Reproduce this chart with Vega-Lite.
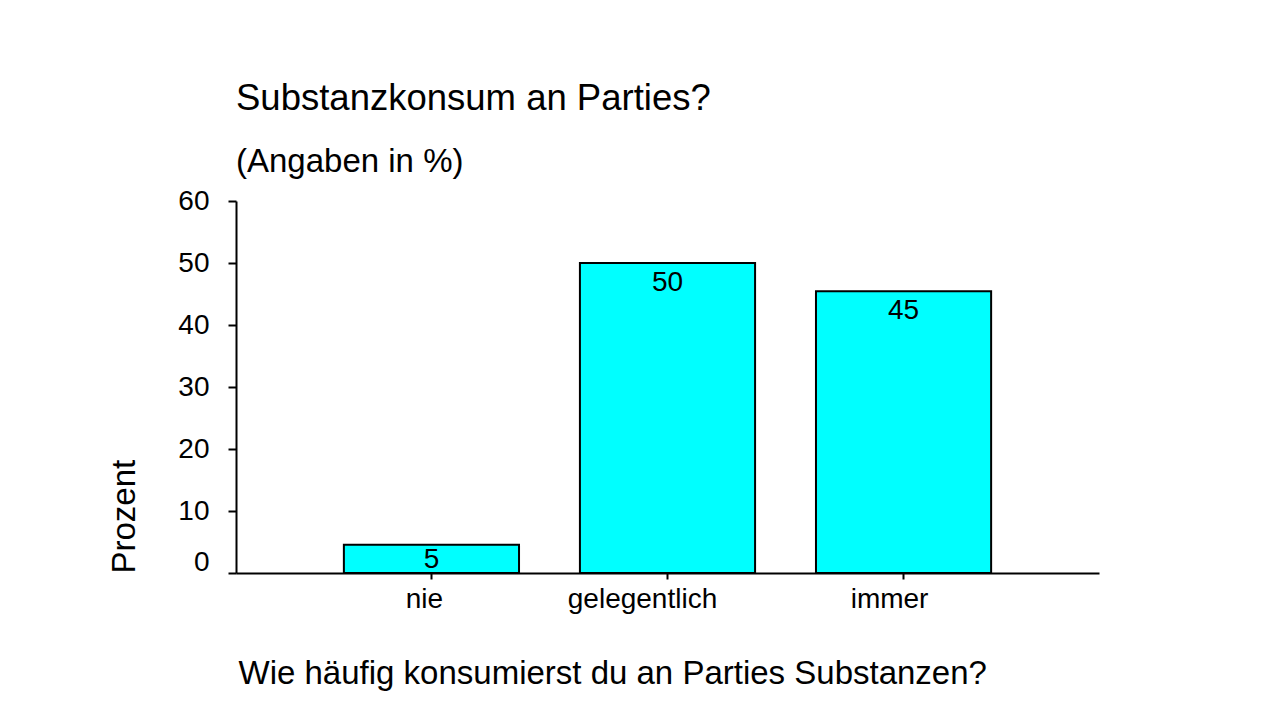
{
  "$schema": "https://vega.github.io/schema/vega-lite/v6.json",
  "width": 863,
  "height": 372,
  "autosize": {"type": "none"},
  "padding": {"left": 236, "top": 201, "right": 186, "bottom": 134},
  "background": "white",
  "config": {"font": "Liberation Sans", "view": {"stroke": null}},
  "title": {
    "text": "Substanzkonsum an Parties?",
    "subtitle": "(Angaben in %)",
    "anchor": "start",
    "frame": "group",
    "fontSize": 36.5,
    "subtitleFontSize": 33,
    "fontWeight": "normal",
    "color": "black",
    "subtitleColor": "black",
    "subtitlePadding": 29,
    "offset": 8
  },
  "data": {
    "values": [
      {"Antwort": "nie", "Prozent": 4.545},
      {"Antwort": "gelegentlich", "Prozent": 50},
      {"Antwort": "immer", "Prozent": 45.455}
    ]
  },
  "encoding": {
    "x": {
      "field": "Antwort",
      "type": "nominal",
      "sort": null,
      "scale": {"paddingInner": 0.258, "paddingOuter": 0.457},
      "axis": {
        "title": "Wie häufig konsumierst du an Parties Substanzen?",
        "titleFontSize": 33,
        "titleFontWeight": "normal",
        "titleColor": "black",
        "titleAnchor": "start",
        "titleAlign": "left",
        "titleX": 2,
        "titleY": 110,
        "titleBaseline": "alphabetic",
        "labelAngle": 0,
        "labelFontSize": 28,
        "labelColor": "black",
        "labelBaseline": "alphabetic",
        "labelPadding": 28,
        "labelOffset": {
          "condition": [
            {"test": "datum.value === 'nie'", "value": -7},
            {"test": "datum.value === 'gelegentlich'", "value": -25}
          ],
          "value": -14
        },
        "tickSize": 6,
        "tickWidth": 2,
        "tickColor": "black",
        "domainColor": "black",
        "domainWidth": 2
      }
    },
    "y": {
      "field": "Prozent",
      "type": "quantitative",
      "scale": {"domain": [0, 60], "nice": false},
      "axis": {
        "title": "Prozent",
        "titleFontSize": 33,
        "titleFontWeight": "normal",
        "titleColor": "black",
        "titleAngle": -90,
        "titleAlign": "left",
        "titleBaseline": "alphabetic",
        "titleX": -102,
        "titleY": 372,
        "grid": false,
        "values": [0, 10, 20, 30, 40, 50, 60],
        "labelFontSize": 28,
        "labelColor": "black",
        "labelPadding": 19,
        "labelOffset": {"condition": {"test": "datum.value === 0", "value": -11}, "value": 0},
        "tickSize": 8,
        "tickWidth": 2,
        "tickColor": "black",
        "domainColor": "black",
        "domainWidth": 2
      }
    }
  },
  "layer": [
    {"mark": {"type": "bar", "fill": "#00FFFF", "stroke": "black", "strokeWidth": 2}},
    {
      "transform": [{"filter": "datum.Prozent >= 10"}],
      "mark": {"type": "text", "baseline": "alphabetic", "dy": 28, "fontSize": 28, "color": "black"},
      "encoding": {"text": {"field": "Prozent", "type": "quantitative", "format": ".0f"}}
    },
    {
      "transform": [{"filter": "datum.Prozent < 10"}],
      "mark": {"type": "text", "baseline": "alphabetic", "dy": 23, "fontSize": 28, "color": "black"},
      "encoding": {"text": {"field": "Prozent", "type": "quantitative", "format": ".0f"}}
    }
  ]
}
